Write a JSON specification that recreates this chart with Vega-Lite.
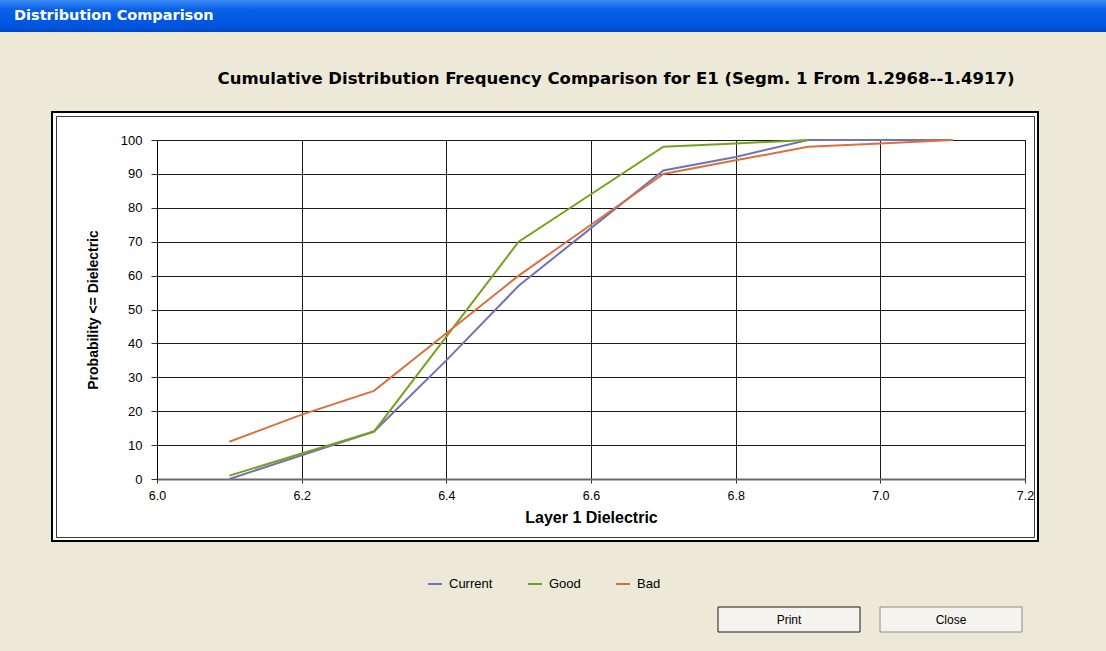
{
  "$schema": "https://vega.github.io/schema/vega-lite/v6.json",
  "background": "#ECE9D8",
  "padding": {"left": 0, "top": 0, "right": 0, "bottom": 19},
  "bounds": "flush",
  "spacing": 0,
  "config": {
    "view": {"stroke": null},
    "axis": {"labelFont": "Liberation Sans", "labelFontSize": 13, "labelColor": "black", "titleFont": "Liberation Sans", "titleFontSize": 14, "titleFontWeight": "bold", "titleColor": "black"}
  },
  "vconcat": [
    {
      "width": 1106,
      "height": 32,
      "data": {"values": [{"t": "Distribution Comparison"}]},
      "layer": [
        {
          "mark": {"type": "rect", "color": {"gradient": "linear", "x1": 0, "y1": 0, "x2": 0, "y2": 1, "stops": [{"offset": 0, "color": "#3C8DF6"}, {"offset": 0.3, "color": "#0A5FE6"}, {"offset": 0.85, "color": "#0054DE"}, {"offset": 1, "color": "#0046C4"}]}},
          "encoding": {}
        },
        {
          "mark": {"type": "text", "align": "left", "baseline": "middle", "font": "DejaVu Sans", "fontSize": 14.5, "fontWeight": "bold", "color": "white", "dx": 14},
          "encoding": {
            "text": {"field": "t"},
            "x": {"datum": 0, "type": "quantitative", "scale": {"domain": [0, 1]}, "axis": null}
          }
        }
      ]
    },
    {
      "width": 1106,
      "height": 80,
      "data": {"values": [{}]},
      "mark": {"type": "point", "opacity": 0},
      "encoding": {}
    },
    {
      "bounds": "flush",
      "spacing": 0,
      "hconcat": [
        {"width": 52, "height": 429, "data": {"values": [{}]}, "mark": {"type": "point", "opacity": 0}, "encoding": {}},
        {"width": 986, "height": 429, "view": {"fill": "white", "stroke": "black", "strokeWidth": 2}, "data": {"values": [{}]}, "mark": {"type": "point", "opacity": 0}, "encoding": {}}
      ]
    },
    {
      "width": 1106,
      "height": 4,
      "data": {"values": [{}]},
      "mark": {"type": "point", "opacity": 0},
      "encoding": {}
    },
    {
      "bounds": "flush",
      "spacing": 0,
      "hconcat": [
        {"width": 56, "height": 421, "data": {"values": [{}]}, "mark": {"type": "point", "opacity": 0}, "encoding": {}},
        {"width": 978, "height": 421, "view": {"fill": null, "stroke": "#3a3a3a", "strokeWidth": 1}, "data": {"values": [{}]}, "mark": {"type": "point", "opacity": 0}, "encoding": {}}
      ]
    },
    {
      "width": 1106,
      "height": 24,
      "data": {"values": [{}]},
      "mark": {"type": "point", "opacity": 0},
      "encoding": {}
    },
    {
      "bounds": "flush",
      "spacing": 0,
      "hconcat": [
        {
          "width": 157,
          "height": 339,
          "data": {"values": [{}]},
          "mark": {"type": "point", "opacity": 0},
          "encoding": {}
        },
        {
          "width": 868,
          "height": 339,
          "view": {"fill": "white", "stroke": "black", "strokeWidth": 1},
          "title": {
            "text": "Cumulative Distribution Frequency Comparison for E1 (Segm. 1  From 1.2968--1.4917)",
            "font": "DejaVu Sans",
            "fontSize": 16.5,
            "fontWeight": "bold",
            "color": "black",
            "anchor": "middle",
            "offset": 47,
            "dx": 25
          },
          "data": {
            "values": [
              {"series": "Current", "dielectric": 6.1, "probability": 0},
              {"series": "Current", "dielectric": 6.2, "probability": 7},
              {"series": "Current", "dielectric": 6.3, "probability": 14},
              {"series": "Current", "dielectric": 6.4, "probability": 35},
              {"series": "Current", "dielectric": 6.5, "probability": 57},
              {"series": "Current", "dielectric": 6.6, "probability": 74},
              {"series": "Current", "dielectric": 6.7, "probability": 91},
              {"series": "Current", "dielectric": 6.8, "probability": 95},
              {"series": "Current", "dielectric": 6.9, "probability": 100},
              {"series": "Current", "dielectric": 7.0, "probability": 100},
              {"series": "Current", "dielectric": 7.1, "probability": 100},
              {"series": "Good", "dielectric": 6.1, "probability": 1},
              {"series": "Good", "dielectric": 6.2, "probability": 7.5},
              {"series": "Good", "dielectric": 6.3, "probability": 14},
              {"series": "Good", "dielectric": 6.4, "probability": 42},
              {"series": "Good", "dielectric": 6.5, "probability": 70},
              {"series": "Good", "dielectric": 6.6, "probability": 84},
              {"series": "Good", "dielectric": 6.7, "probability": 98},
              {"series": "Good", "dielectric": 6.8, "probability": 99},
              {"series": "Good", "dielectric": 6.9, "probability": 100},
              {"series": "Bad", "dielectric": 6.1, "probability": 11},
              {"series": "Bad", "dielectric": 6.2, "probability": 19},
              {"series": "Bad", "dielectric": 6.3, "probability": 26},
              {"series": "Bad", "dielectric": 6.4, "probability": 43},
              {"series": "Bad", "dielectric": 6.5, "probability": 60},
              {"series": "Bad", "dielectric": 6.6, "probability": 75},
              {"series": "Bad", "dielectric": 6.7, "probability": 90},
              {"series": "Bad", "dielectric": 6.8, "probability": 94},
              {"series": "Bad", "dielectric": 6.9, "probability": 98},
              {"series": "Bad", "dielectric": 7.0, "probability": 99},
              {"series": "Bad", "dielectric": 7.1, "probability": 100}
            ]
          },
          "mark": {"type": "line", "strokeWidth": 2},
          "encoding": {
            "x": {
              "field": "dielectric",
              "type": "quantitative",
              "scale": {"domain": [6, 7.2], "nice": false, "zero": false},
              "axis": {
                "values": [6, 6.2, 6.4, 6.6, 6.8, 7.0, 7.2],
                "format": ".1f",
                "title": "Layer 1 Dielectric",
                "titleFontSize": 16,
                "grid": true,
                "gridColor": "#1a1a1a",
                "gridOpacity": 1,
                "domainColor": "#6a6a6a",
                "domainWidth": 2,
                "tickColor": "#333333",
                "tickSize": 4,
                "labelFlush": false,
                "labelFontSize": 12.5,
                "labelPadding": 6,
                "titlePadding": 8
              }
            },
            "y": {
              "field": "probability",
              "type": "quantitative",
              "scale": {"domain": [0, 100], "nice": false},
              "axis": {
                "values": [0, 10, 20, 30, 40, 50, 60, 70, 80, 90, 100],
                "title": "Probability <= Dielectric",
                "grid": true,
                "gridColor": "#1a1a1a",
                "gridOpacity": 1,
                "domainColor": "black",
                "tickColor": "#333333",
                "tickSize": 6,
                "labelFlush": false,
                "labelPadding": 9,
                "titlePadding": 20
              }
            },
            "color": {
              "field": "series",
              "type": "nominal",
              "scale": {"domain": ["Current", "Good", "Bad"], "range": ["#7272B4", "#74A21C", "#DC6F3E"]},
              "legend": {
                "orient": "none",
                "legendX": 427,
                "legendY": 576,
                "direction": "horizontal",
                "title": null,
                "symbolType": "stroke",
                "symbolSize": 196,
                "symbolStrokeWidth": 2,
                "labelFont": "Liberation Sans",
                "labelFontSize": 13,
                "labelColor": "black",
                "labelOffset": 6,
                "columnPadding": 31
              }
            }
          }
        }
      ]
    },
    {
      "width": 1106,
      "height": 467,
      "data": {"values": [{}]},
      "mark": {"type": "point", "opacity": 0},
      "encoding": {}
    },
    {
      "bounds": "flush",
      "spacing": 0,
      "hconcat": [
        {
          "width": 718,
          "height": 25,
          "data": {"values": [{}]},
          "mark": {"type": "point", "opacity": 0},
          "encoding": {}
        },
        {
          "width": 304,
          "height": 25,
          "data": {"values": [{"b": "Print"}, {"b": "Close"}]},
          "encoding": {
            "x": {"field": "b", "type": "nominal", "sort": null, "scale": {"domain": ["Print", "Close"], "paddingInner": 0.1235, "paddingOuter": 0}, "axis": null}
          },
          "layer": [
            {
              "mark": {"type": "bar", "fill": "#F4F3EE", "strokeWidth": 1},
              "encoding": {
                "stroke": {"field": "b", "type": "nominal", "scale": {"domain": ["Print", "Close"], "range": ["#1a1a1a", "#8c8c8c"]}, "legend": null}
              }
            },
            {
              "mark": {"type": "text", "font": "Liberation Sans", "fontSize": 12, "color": "black"},
              "encoding": {"text": {"field": "b"}}
            }
          ]
        }
      ]
    }
  ]
}
